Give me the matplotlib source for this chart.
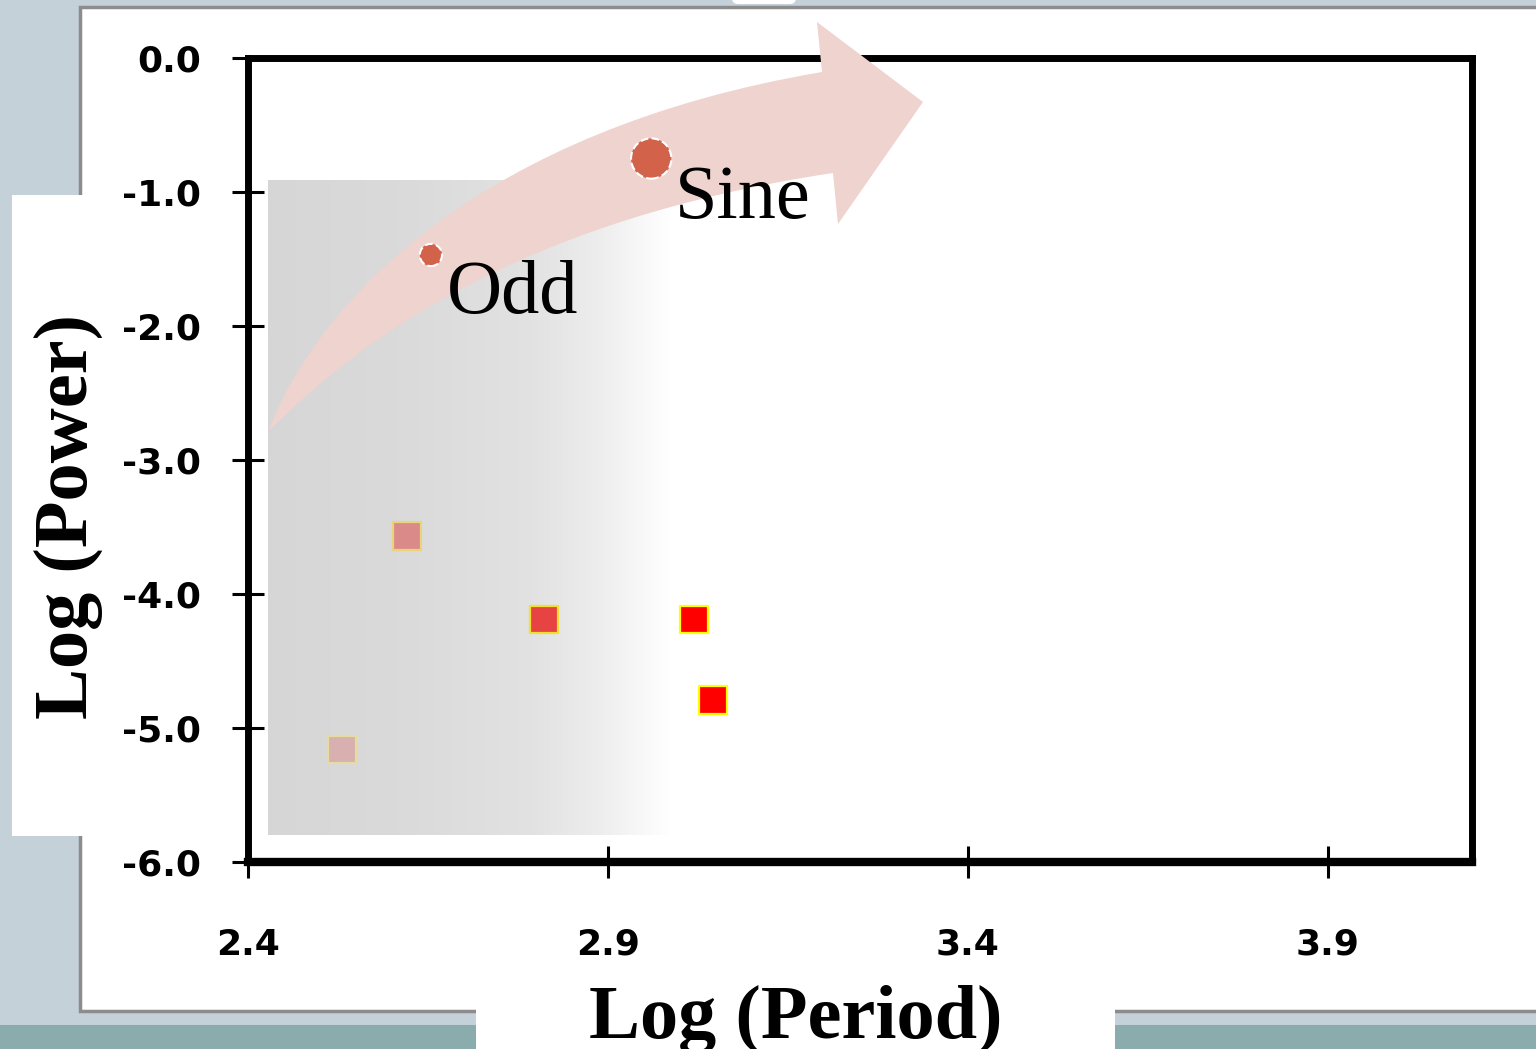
import matplotlib
matplotlib.use("Agg")
from matplotlib import pyplot as plt
from matplotlib.patches import Rectangle, PathPatch, FancyBboxPatch
from matplotlib.path import Path
from matplotlib.transforms import Affine2D
import numpy as np

# Points of the chart (log period, log power)
odd_x, odd_y = [2.654], [-1.47]
sine_x, sine_y = [2.960], [-0.75]
sq_x = [2.531, 2.621, 2.811, 3.019, 3.046]
sq_y = [-5.16, -3.57, -4.19, -4.19, -4.79]

x_ticks = [2.4, 2.9, 3.4, 3.9]
y_ticks = [0.0, -1.0, -2.0, -3.0, -4.0, -5.0, -6.0]
x_label = "Log (Period)"
y_label = "Log (Power)"

# styles
sq_colors = ["#d8b0b0", "#db8a8a", "#e84343", "#ff0000", "#ff0000"]
sq_edges = ["#e6dca0", "#e8d47a", "#f2e030", "#ffff00", "#ffff00"]
dot_color = "#d2624a"
arrow_color = "#efd3cf"

W, H = 1536, 1049
fig = plt.figure(figsize=(W / 100, H / 100), dpi=100)
fig.patch.set_facecolor("#c5d1d8")

# pixel coordinates (origin top-left) -> figure
px = Affine2D().scale(1 / W, -1 / H).translate(0, 1) + fig.transFigure

# slide decorations
fig.patches.append(Rectangle((0, 1025), W, 30, transform=px, facecolor="#8aacac",
                             edgecolor="none", zorder=-3))
fig.patches.append(Rectangle((80, 7), W, 1004, transform=px, facecolor="white",
                             edgecolor="#8c8c8c", linewidth=2.5, zorder=-2))
fig.patches.append(FancyBboxPatch((732, -10), 64, 14, boxstyle="round,pad=0,rounding_size=6",
                                  transform=px, facecolor="white", edgecolor="none", zorder=-2))
fig.patches.append(Rectangle((12, 195), 100, 641, transform=px, facecolor="white",
                             edgecolor="none", zorder=-1))
fig.patches.append(Rectangle((476, 1009), 639, 45, transform=px, facecolor="white",
                             edgecolor="none", zorder=-1))

# gray gradient block behind the points
gx = [268, 400, 530, 600, 640, 672]
gv = [0.84, 0.855, 0.885, 0.93, 0.97, 1.0]
cols = np.linspace(268, 672, 400)
grad = np.interp(cols, gx, gv)[None, :, None] * np.ones((1, 1, 3))
bg = fig.add_axes([268 / W, 1 - 835 / H, (672 - 268) / W, (835 - 180) / H], zorder=-0.5)
bg.imshow(grad, aspect="auto", interpolation="bilinear", vmin=0, vmax=1)
bg.axis("off")

# main axes
ax = fig.add_axes([248 / W, 1 - 862 / H, (1472 - 248) / W, (862 - 58) / H], zorder=1)
ax.set_facecolor("none")
ax.set_xlim(2.4, 4.1)
ax.set_ylim(-6.0, 0.0)
ax.set_xticks(x_ticks)
ax.set_xticklabels([f"{v:.1f}" for v in x_ticks])
ax.set_yticks(y_ticks)
ax.set_yticklabels([f"{v:.1f}" for v in y_ticks])
for s in ax.spines.values():
    s.set_linewidth(5)
ax.spines["bottom"].set_linewidth(6)
ax.tick_params(axis="both", direction="inout", length=23, width=2.2, labelsize=26)
ax.tick_params(axis="y", pad=22)
ax.tick_params(axis="x", pad=36)
for lab in ax.get_xticklabels() + ax.get_yticklabels():
    lab.set_fontweight("bold")
    lab.set_family("DejaVu Sans")

# curved arrow
verts = [(270, 427), (320, 300), (480, 130), (822, 72),
         (817, 22), (923, 102), (838, 224), (833, 173),
         (520, 220), (360, 340), (270, 430), (270, 427)]
codes = [Path.MOVETO, Path.CURVE4, Path.CURVE4, Path.CURVE4,
         Path.LINETO, Path.LINETO, Path.LINETO, Path.LINETO,
         Path.CURVE4, Path.CURVE4, Path.CURVE4, Path.CLOSEPOLY]
arrow = PathPatch(Path(verts, codes), transform=px, facecolor=arrow_color,
                  edgecolor="none", zorder=2.6, clip_on=False)
ax.add_patch(arrow)

# squares
ax.scatter(sq_x, sq_y, s=20 ** 2, marker="s", c=sq_colors, edgecolors=sq_edges,
           linewidths=1.6, zorder=4, clip_on=False)

# circles with dashed white edges
ax.scatter(odd_x, odd_y, s=16 ** 2, c=dot_color, edgecolors="white",
           linewidths=1.5, linestyle="--", zorder=4, clip_on=False)
ax.scatter(sine_x, sine_y, s=29 ** 2, c=dot_color, edgecolors="white",
           linewidths=1.5, linestyle="--", zorder=4, clip_on=False)

ax.annotate("Odd", (odd_x[0], odd_y[0]), xytext=(11.5, -41.8), textcoords="offset points",
            ha="left", va="baseline", fontsize=55, family="Liberation Serif", zorder=5)
ax.annotate("Sine", (sine_x[0], sine_y[0]), xytext=(17.3, -42.5), textcoords="offset points",
            ha="left", va="baseline", fontsize=55, family="Liberation Serif", zorder=5)

# axis titles in their white boxes
fig.text(796 / W, 1 - 1038 / H, x_label, ha="center", va="baseline", fontsize=55,
         fontweight="bold", family="Liberation Serif")
fig.text(68 / W, 1 - 516 / H, y_label, ha="center", va="center", rotation=90, fontsize=55,
         fontweight="bold", family="Liberation Serif")

fig.savefig("out.png", dpi=100, facecolor=fig.get_facecolor())
